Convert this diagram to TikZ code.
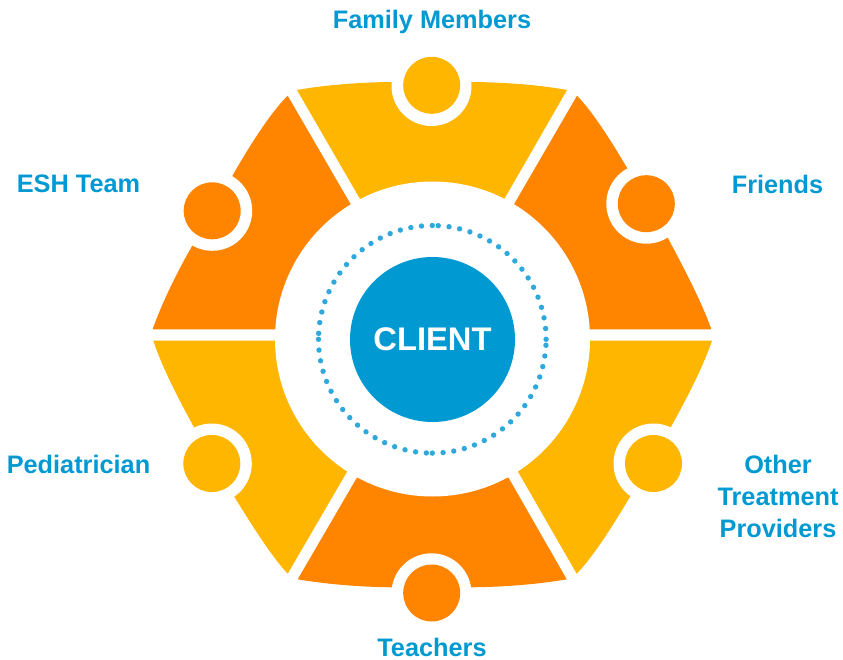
\documentclass[tikz,border=0pt]{standalone}
\usepackage{fontspec}
\setmainfont{Liberation Sans}
\definecolor{segyellow}{HTML}{FFB600}
\definecolor{segorange}{HTML}{FF8400}
\definecolor{hubblue}{HTML}{0099D1}
\definecolor{dotblue}{HTML}{2FA9DC}
\tikzset{
  label/.style={text=hubblue,font=\fontsize{25.3}{32}\selectfont\bfseries,align=center,inner sep=0pt},
  ring/.style={circle,fill=white,minimum size=80pt,inner sep=0pt},
  yellowdot/.style={circle,fill=segyellow,minimum size=57pt,inner sep=0pt},
  orangedot/.style={circle,fill=segorange,minimum size=57pt,inner sep=0pt}
}
\begin{document}
\begin{tikzpicture}[x=1pt,y=-1pt]
\useasboundingbox (0,0) rectangle (843,660);
% segments (inner ends run under the white disc)
\fill[segyellow] (360,199) -- (297,90) .. controls (325,85) and (360,82.3) .. (391.7,82) -- (431.5,86) -- (471.3,82) .. controls (505,82.3) and (540,85) .. (567,90) -- (504.3,199) -- (432.5,260) -- cycle;
\fill[segorange] (514,204.3) -- (577,95.7) .. controls (592,111) and (610,139) .. (627.3,168.3) -- (646.3,203.7) -- (667.7,237.7) .. controls (685,270) and (703,305) .. (711.3,329.3) -- (560,329.3) -- (500,300) -- cycle;
\fill[segyellow] (560,340.7) -- (712,340.7) .. controls (703,367) and (687,398) .. (671,426.7) -- (653.5,463.5) -- (630.7,495.7) .. controls (612,527) and (593,557) .. (576.7,573.7) -- (518,471.7) -- (500,380) -- cycle;
\fill[segorange] (356.7,478) -- (297.7,579.3) .. controls (325,584) and (360,587) .. (391.7,587.3) -- (431.5,593.3) -- (471,587.3) .. controls (505,587) and (540,584) .. (566.7,579.3) -- (508.7,478) -- (432.5,420) -- cycle;
\fill[segyellow] (300,340.7) -- (153.3,340.7) .. controls (162,367) and (178,398) .. (194,427.3) -- (211.8,463.5) -- (234.3,496.7) .. controls (253,527) and (272,557) .. (287.7,573.7) -- (346.7,472.3) -- (365,380) -- cycle;
\fill[segorange] (350.7,204.3) -- (287.7,95.7) .. controls (272,111) and (251,143) .. (232.3,176) -- (212.2,210.8) -- (192.3,245.7) .. controls (177,272) and (161,305) .. (152.7,329.3) -- (300,329.3) -- (365,300) -- cycle;
% hub
\node[circle,fill=white,minimum size=315pt,inner sep=0pt] (disc) at (432.5,339) {};
\foreach \q in {0,1,2,3}{
  \foreach \k in {0,...,16}{
    \pgfmathsetmacro{\ang}{\q*90+87-\k*5.4375}
    \fill[dotblue,shift={(432.3,339.3)}] (\ang:113.8pt) circle[radius=2.7pt];
  }
}
\node[circle,fill=hubblue,minimum size=165pt,inner sep=0pt,text=white,font=\fontsize{32.7}{40}\selectfont\bfseries] (client) at (432.5,339.5) {CLIENT};
% rings and dots
\node[ring] (r1) at (431.5,86) {};
\node[yellowdot] (d1) at (431.7,85.3) {};
\node[ring] (r2) at (646.3,203.7) {};
\node[orangedot] (d2) at (646.3,203.7) {};
\node[ring] (r3) at (653.5,463.5) {};
\node[yellowdot] (d3) at (653.5,463.5) {};
\node[ring] (r4) at (431.5,593.3) {};
\node[orangedot] (d4) at (431.7,593) {};
\node[ring] (r5) at (211.8,463.5) {};
\node[yellowdot] (d5) at (211.8,463.5) {};
\node[ring] (r6) at (212.2,210.8) {};
\node[orangedot] (d6) at (212.2,210.8) {};
% labels
\node[label] (l1) at (432,22) {Family Members};
\node[label] (l2) at (777.5,184) {Friends};
\node[label] (l3a) at (778,464.5) {Other};
\node[label] (l3b) at (778,496.5) {Treatment};
\node[label] (l3c) at (778,528.5) {Providers};
\node[label] (l4) at (432,647) {Teachers};
\node[label] (l5) at (78.5,464) {Pediatrician};
\node[label] (l6) at (78.5,184) {ESH Team};
\end{tikzpicture}
\end{document}
